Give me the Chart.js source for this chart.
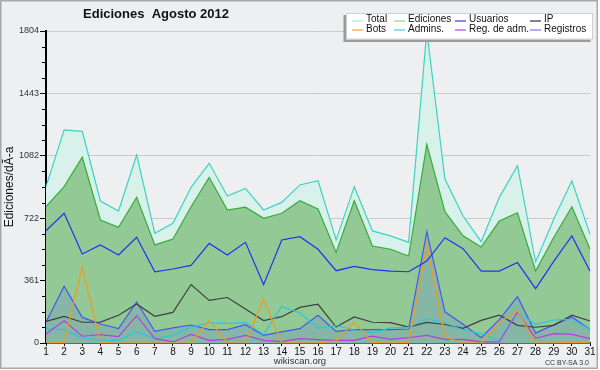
<!DOCTYPE html>
<html><head><meta charset="utf-8">
<script src="https://cdn.jsdelivr.net/npm/chart.js@4/dist/chart.umd.min.js"></script>
<style>html,body{margin:0;padding:0;background:#fff}canvas{display:block}</style>
</head><body>
<canvas id="c" width="600" height="370"></canvas>
<script>
const days = ['1','2','3','4','5','6','7','8','9','10','11','12','13','14','15','16','17','18','19','20','21','22','23','24','25','26','27','28','29','30','31'];
const total      = [904,1232,1224,821,763,1087,634,692,900,1039,850,894,769,813,914,938,596,904,648,619,582,1804,948,734,586,842,1025,468,715,938,628];
const ediciones  = [788,904,1074,711,669,842,567,601,788,958,769,785,721,750,823,775,524,823,561,542,503,1149,759,620,555,705,753,416,610,788,543];
const usuarios   = [649,750,515,567,509,611,412,428,449,576,509,582,337,596,615,542,418,443,424,416,412,474,609,545,416,416,465,314,472,619,416];
const ip         = [125,154,120,121,160,226,154,177,338,246,263,196,130,152,206,224,92,151,120,118,92,119,107,85,131,161,102,91,102,161,127];
const bots       = [8,0,440,2,0,0,0,0,0,130,0,0,252,0,0,0,12,121,2,8,0,571,35,0,0,121,185,0,0,2,0];
const admins     = [83,77,29,17,15,67,25,44,92,117,114,118,49,211,175,86,101,75,59,88,90,140,117,75,54,15,175,108,133,137,79];
const regAdm     = [52,129,39,48,37,158,25,6,50,15,21,44,15,8,25,19,15,15,40,21,31,44,21,21,6,6,179,27,54,50,25];
const registros  = [120,328,148,110,83,237,67,87,104,77,77,106,44,64,83,160,67,77,77,77,81,644,180,108,31,135,268,57,105,151,79];

const yMax = 1804;
const yStep = 90.2;          // minor tick spacing; every 4th is a labelled major tick
const titleText = 'Ediciones  Agosto 2012';
const yTitle = 'Ediciones/dÃ-a';
const legendNames = ['Total','Ediciones','Usuarios','IP','Bots','Admins.','Reg. de adm.','Registros'];
const legendColors = ['#a8e8dc','#8fd08f','#3a3ae0','#333333','#f0a040','#50c8e0','#c040e0','#7878e8'];

const FONT = '"Liberation Sans", Arial, sans-serif';

const decor = {
  id: 'decor',
  beforeDraw(chart) {
    const ctx = chart.ctx;
    ctx.save();
    ctx.fillStyle = '#ffffff'; ctx.fillRect(0, 0, 600, 370);
    ctx.fillStyle = '#eeeff1'; ctx.fillRect(1, 1, 596, 367);
    ctx.strokeStyle = '#a8a8a8'; ctx.lineWidth = 1.5;
    ctx.strokeRect(0.75, 0.75, 596.5, 367.5);
    ctx.restore();
  },
  afterDraw(chart) {
    const ctx = chart.ctx;
    const y = chart.scales.y;
    ctx.save();
    // minor y ticks
    ctx.strokeStyle = '#000'; ctx.lineWidth = 1;
    y.ticks.forEach((t, i) => {
      if (i % 4 !== 0) {
        const py = Math.round(y.getPixelForValue(t.value)) + 0.5;
        ctx.beginPath(); ctx.moveTo(y.right - 4, py); ctx.lineTo(y.right, py); ctx.stroke();
      }
    });
    // title
    ctx.fillStyle = '#111';
    ctx.font = 'bold 13px ' + FONT;
    ctx.textAlign = 'center'; ctx.textBaseline = 'middle';
    ctx.fillText(titleText, 156, 14);
    // legend box
    ctx.fillStyle = '#9a9a9a';
    ctx.fillRect(343.5, 15, 247, 27);
    ctx.fillStyle = '#ffffff';
    ctx.fillRect(346, 13, 247, 26.5);
    ctx.strokeStyle = '#d0d0d0'; ctx.lineWidth = 1;
    ctx.strokeRect(346.5, 13.5, 246, 25.5);
    const colX = [366, 408, 469, 544];
    const rowY = [19.5, 29];
    ctx.font = '10px ' + FONT;
    ctx.textAlign = 'left'; ctx.textBaseline = 'middle';
    legendNames.forEach((name, i) => {
      const cx = colX[i % 4], cy = rowY[Math.floor(i / 4)];
      ctx.strokeStyle = legendColors[i]; ctx.lineWidth = 1.2;
      const ly = Math.round(cy) + 1;
      ctx.beginPath(); ctx.moveTo(cx - 14, ly); ctx.lineTo(cx - 3, ly); ctx.stroke();
      ctx.fillStyle = '#111';
      ctx.fillText(name, cx, cy);
    });
    // footer texts
    ctx.fillStyle = '#333';
    ctx.font = '9.5px ' + FONT;
    ctx.textAlign = 'center';
    ctx.fillText('wikiscan.org', 300, 361);
    ctx.font = '7px ' + FONT;
    ctx.textAlign = 'right';
    ctx.fillText('CC BY-SA 3.0', 589, 363);
    ctx.restore();
  }
};

function line(label, data, color, order, extra) {
  return Object.assign({
    label, data, borderColor: color, borderWidth: 1.2, pointRadius: 0,
    tension: 0, fill: false, order
  }, extra || {});
}

new Chart(document.getElementById('c'), {
  type: 'line',
  data: {
    labels: days,
    datasets: [
      line('Total', total, '#3dd3c3', 20, {fill: 'origin', backgroundColor: '#d8f1ea'}),
      line('Ediciones', ediciones, '#35ad38', 19, {fill: 'origin', backgroundColor: '#92c994'}),
      line('Registros', registros, '#4557f2', 18, {fill: 'origin', backgroundColor: 'rgba(100,130,220,0.25)'}),
      line('IP', ip, '#404040', 6),
      line('Admins.', admins, '#25c8e2', 5),
      line('Reg. de adm.', regAdm, '#b63fe0', 4),
      line('Bots', bots, '#f49a1c', 3),
      line('Usuarios', usuarios, '#2233ee', 2)
    ]
  },
  options: {
    responsive: false,
    animation: false,
    events: [],
    layout: {padding: {left: 0, right: 10, top: 31, bottom: 0}},
    plugins: {legend: {display: false}, tooltip: {enabled: false}, title: {display: false}},
    scales: {
      x: {
        type: 'category',
        offset: false,
        afterFit: s => { s.height = 27; },
        grid: {drawOnChartArea: false, drawTicks: true, tickLength: 3, tickColor: '#000'},
        border: {color: '#000', width: 1.5},
        ticks: {autoSkip: false, maxRotation: 0, padding: 0, color: '#111', font: {family: FONT, size: 10}}
      },
      y: {
        min: 0, max: yMax,
        afterFit: s => { s.width = 46; },
        title: {display: true, text: yTitle, color: '#111', font: {family: FONT, size: 12}, padding: {top: 2, bottom: 0}},
        grid: {
          color: c => (c.index % 4 === 0 ? '#cacaca' : 'rgba(0,0,0,0)'),
          tickColor: c => (c.index % 4 === 0 ? '#000' : 'rgba(0,0,0,0)'),
          tickLength: 6, drawTicks: true
        },
        border: {color: '#000', width: 2},
        ticks: {
          stepSize: yStep, padding: 1, color: '#333', font: {family: FONT, size: 9},
          callback: (v, i) => (i % 4 === 0 ? String(Math.round(v)) : '')
        }
      }
    }
  },
  plugins: [decor]
});
</script>
</body></html>
